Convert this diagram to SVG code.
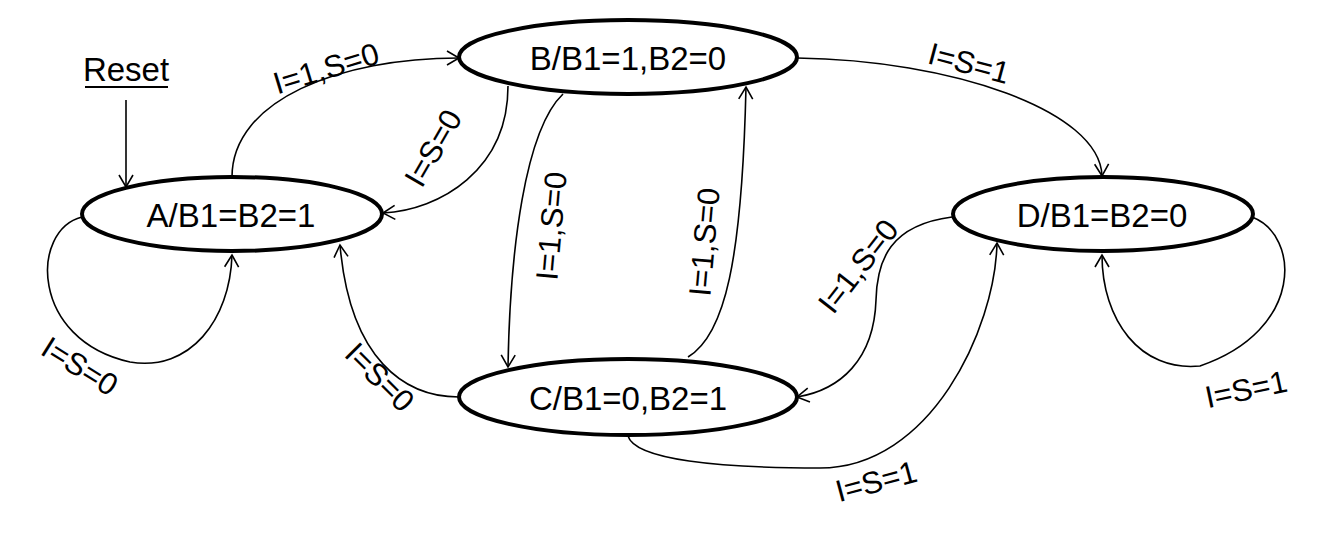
<svg xmlns="http://www.w3.org/2000/svg" width="1318" height="538" viewBox="0 0 1318 538">
<style>
.node{fill:#fff;stroke:#000;stroke-width:4}
.t{font-family:"Liberation Sans",Arial,sans-serif;font-size:33px;fill:#000;text-anchor:middle}
.lbl{font-family:"Liberation Sans",Arial,sans-serif;font-size:31px;fill:#000;text-anchor:middle}
.e{fill:none;stroke:#000;stroke-width:1.6;marker-end:url(#arr)}
</style>
<defs>
<marker id="arr" markerUnits="userSpaceOnUse" viewBox="-14 -9 16 18" refX="0" refY="0" markerWidth="16" markerHeight="18" orient="auto" overflow="visible">
<path d="M-12,-7 L0,0 L-12,7" fill="none" stroke="#000" stroke-width="1.6"/>
</marker>
</defs>
<rect width="1318" height="538" fill="#fff"/>
<g id="connectors">
<path class="e" d="M126,100 L126,187"/>
<path class="e" d="M232,177 C232,100 340,58 459,58"/>
<path class="e" d="M508,86 C508,170 440,210 383,213"/>
<path class="e" d="M563,94 C525,130 510,250 508,367"/>
<path class="e" d="M688,357 C725,335 742,260 746,87"/>
<path class="e" d="M797,58 C950,60 1100,110 1102,176"/>
<path class="e" d="M952,217 C890,225 877,260 876,300 C874,360 840,390 797,397"/>
<path class="e" d="M628,436 C635,460 720,468 820,468 C930,468 995,330 997,243"/>
<path class="e" d="M459,397 C405,397 350,360 340,245"/>
<path class="e" d="M82,217 C30,230 30,340 130,362 C190,372 230,320 232,255"/>
<path class="e" d="M1252,217 C1300,235 1305,330 1200,366 C1140,372 1102,320 1102,255"/>
<g id="edge-labels">
<text class="lbl" transform="translate(326,68) rotate(-17)" dy="11">I=1,S=0</text>
<text class="lbl" transform="translate(433,148) rotate(-60)" dy="11">I=S=0</text>
<text class="lbl" transform="translate(551,226) rotate(-85)" dy="11">I=1,S=0</text>
<text class="lbl" transform="translate(704,242) rotate(-85)" dy="11">I=1,S=0</text>
<text class="lbl" transform="translate(969,63) rotate(15)" dy="11">I=S=1</text>
<text class="lbl" transform="translate(858,266) rotate(-52)" dy="11">I=1,S=0</text>
<text class="lbl" transform="translate(876,481) rotate(-15)" dy="11">I=S=1</text>
<text class="lbl" transform="translate(380,377) rotate(45)" dy="11">I=S=0</text>
<text class="lbl" transform="translate(80,366) rotate(32)" dy="11">I=S=0</text>
<text class="lbl" transform="translate(1246,389) rotate(-12)" dy="11">I=S=1</text>
</g>
</g>
<g id="reset">
<text class="t" x="126" y="81">Reset</text>
<line x1="85" y1="87" x2="168" y2="87" stroke="#000" stroke-width="2"/>
</g>
<g id="node-A">
<ellipse class="node" cx="232" cy="214" rx="150" ry="37"/>
<text class="t" x="231" y="227">A/B1=B2=1</text>
</g>
<g id="node-B">
<ellipse class="node" cx="628" cy="57" rx="169" ry="37"/>
<text class="t" x="628" y="70">B/B1=1,B2=0</text>
</g>
<g id="node-C">
<ellipse class="node" cx="628" cy="397" rx="169" ry="38"/>
<text class="t" x="628" y="410">C/B1=0,B2=1</text>
</g>
<g id="node-D">
<ellipse class="node" cx="1103" cy="214" rx="150" ry="37"/>
<text class="t" x="1102" y="227">D/B1=B2=0</text>
</g>
</svg>
